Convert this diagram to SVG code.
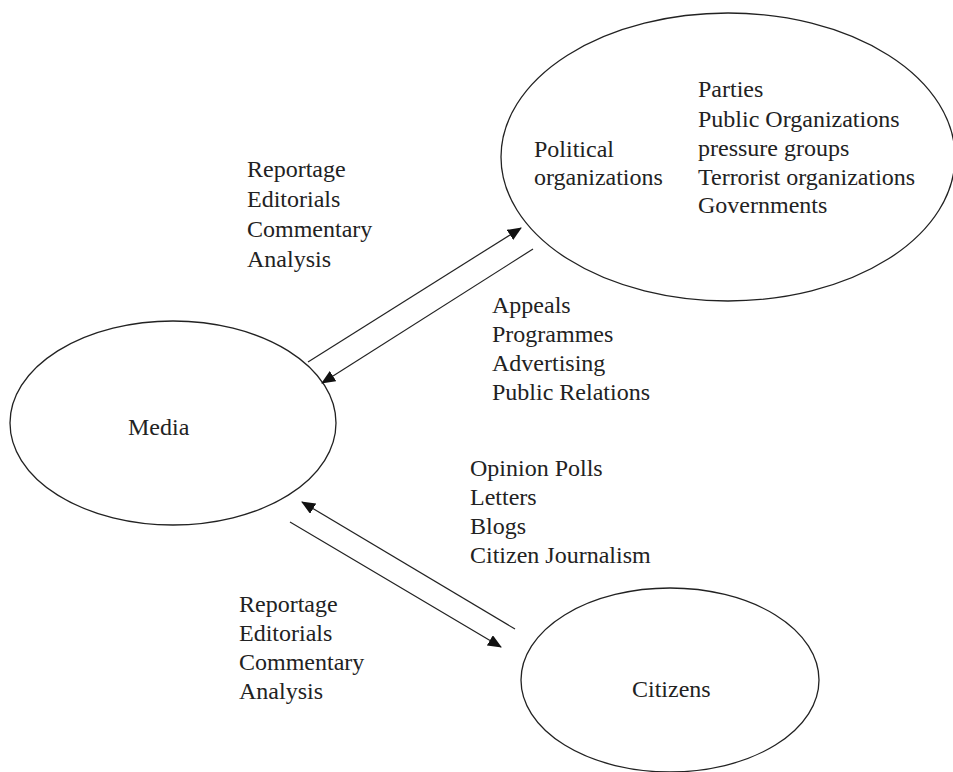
<svg xmlns="http://www.w3.org/2000/svg" width="953" height="772" viewBox="0 0 953 772">
<defs>
<style>
.node{fill:#fff;stroke:#222;stroke-width:1.3}
.t{font-family:"Liberation Serif","Times New Roman",serif;font-size:24px;fill:#222}
.c{stroke:#222;stroke-width:1.2;fill:none}
</style>
<marker id="ah" markerUnits="userSpaceOnUse" markerWidth="14" markerHeight="12" refX="13" refY="6" orient="auto">
<path d="M0,0 L14,6 L0,12 z" fill="#111"/>
</marker>
</defs>
<rect width="953" height="772" fill="#fff"/>
<g id="political">
<ellipse class="node" cx="728" cy="157" rx="227" ry="144"/>
<text class="t" x="534" y="157">Political</text>
<text class="t" x="534" y="185">organizations</text>
<text class="t" x="698" y="97">Parties</text>
<text class="t" x="698" y="127">Public Organizations</text>
<text class="t" x="698" y="156">pressure groups</text>
<text class="t" x="698" y="185">Terrorist organizations</text>
<text class="t" x="698" y="213">Governments</text>
</g>
<g id="media">
<ellipse class="node" cx="173" cy="423" rx="163" ry="102"/>
<text class="t" x="128" y="435">Media</text>
</g>
<g id="citizens">
<ellipse class="node" cx="670" cy="680" rx="149" ry="92"/>
<text class="t" x="632" y="697">Citizens</text>
</g>
<g id="connectors">
<line class="c" x1="308" y1="362" x2="521" y2="228" marker-end="url(#ah)"/>
<line class="c" x1="533" y1="249" x2="322" y2="383" marker-end="url(#ah)"/>
<line class="c" x1="515" y1="629" x2="302" y2="502" marker-end="url(#ah)"/>
<line class="c" x1="290" y1="522" x2="501" y2="647" marker-end="url(#ah)"/>
</g>
<g id="labels">
<text class="t" x="247" y="177">Reportage</text>
<text class="t" x="247" y="207">Editorials</text>
<text class="t" x="247" y="237">Commentary</text>
<text class="t" x="247" y="267">Analysis</text>
<text class="t" x="492" y="313">Appeals</text>
<text class="t" x="492" y="342">Programmes</text>
<text class="t" x="492" y="371">Advertising</text>
<text class="t" x="492" y="400">Public Relations</text>
<text class="t" x="470" y="476">Opinion Polls</text>
<text class="t" x="470" y="505">Letters</text>
<text class="t" x="470" y="534">Blogs</text>
<text class="t" x="470" y="563">Citizen Journalism</text>
<text class="t" x="239" y="612">Reportage</text>
<text class="t" x="239" y="641">Editorials</text>
<text class="t" x="239" y="670">Commentary</text>
<text class="t" x="239" y="699">Analysis</text>
</g>
</svg>
